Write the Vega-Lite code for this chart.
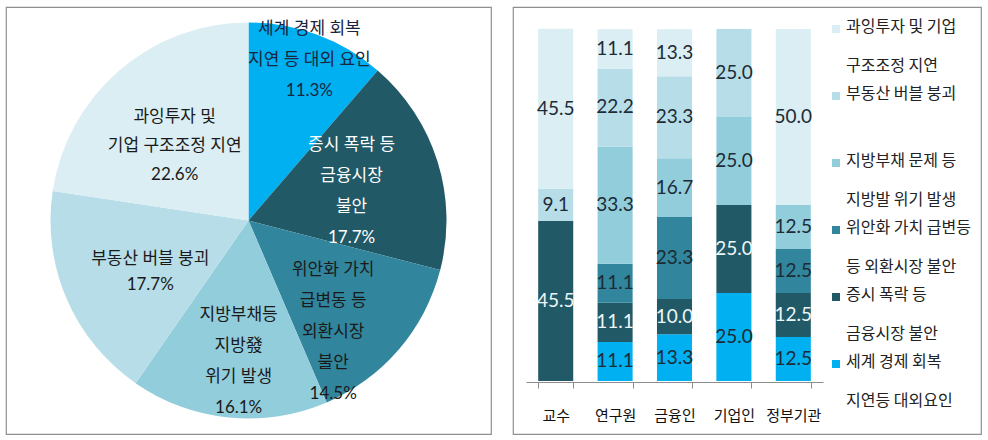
{
  "$schema": "https://vega.github.io/schema/vega-lite/v6.json",
  "padding": {"left": 5, "top": 6, "right": 0, "bottom": 0},
  "spacing": 20,
  "config": {"view": {"stroke": "#8f8f8f", "strokeWidth": 1.2}, "font": "Noto Sans CJK KR"},
  "resolve": {"scale": {"color": "independent"}, "legend": {"color": "independent"}},
  "hconcat": [
    {
      "width": 485,
      "height": 427,
      "view": {"stroke": "#8f8f8f", "strokeWidth": 1.2},
      "data": {"values": [
        {"cat": "세계 경제 회복 지연 등 대외 요인", "label": "세계 경제 회복\n지연 등 대외 요인", "value": 11.3},
        {"cat": "증시 폭락 등 금융시장 불안", "label": "증시 폭락 등\n금융시장\n불안", "value": 17.7},
        {"cat": "위안화 가치 급변동 등 외환시장 불안", "label": "위안화 가치\n급변동 등\n외환시장\n불안", "value": 14.5},
        {"cat": "지방부채등 지방發 위기 발생", "label": "지방부채등\n지방發\n위기 발생", "value": 16.1},
        {"cat": "부동산 버블 붕괴", "label": "부동산 버블 붕괴", "value": 17.7},
        {"cat": "과잉투자 및 기업 구조조정 지연", "label": "과잉투자 및\n기업 구조조정 지연", "value": 22.6}
      ]},
      "transform": [
        {"window": [{"op": "row_number", "as": "ord"}]},
        {"stack": "value", "groupby": [], "sort": [{"field": "ord", "order": "ascending"}], "as": ["t0", "t1"]},
        {"calculate": "(datum.t0 + datum.t1) / 2", "as": "tm"},
        {"calculate": "datum.label + '\\n' + format(datum.value, '.1f') + '%'", "as": "txt"}
      ],
      "layer": [
        {
          "mark": {"type": "arc", "outerRadius": 198},
          "encoding": {
            "theta": {"field": "t0", "type": "quantitative", "stack": null, "scale": {"domain": [0, 99.9]}},
            "theta2": {"field": "t1"},
            "color": {
              "field": "cat", "type": "nominal", "legend": null,
              "scale": {
                "domain": ["세계 경제 회복 지연 등 대외 요인", "증시 폭락 등 금융시장 불안", "위안화 가치 급변동 등 외환시장 불안", "지방부채등 지방發 위기 발생", "부동산 버블 붕괴", "과잉투자 및 기업 구조조정 지연"],
                "range": ["#00B0F0", "#215967", "#31859C", "#92CDDC", "#B7DEE8", "#DAEEF3"]
              }
            }
          }
        },
        {
          "transform": [{"filter": {"field": "cat", "equal": "세계 경제 회복 지연 등 대외 요인"}}],
          "mark": {"type": "text", "radius": 175, "dy": -27, "fontSize": 17, "lineHeight": 31, "lineBreak": "\n", "font": "Lato, Noto Sans CJK KR", "color": "#1a2540"},
          "encoding": {"theta": {"field": "tm", "type": "quantitative", "stack": null}, "text": {"field": "txt"}}
        },
        {
          "transform": [{"filter": {"field": "cat", "equal": "증시 폭락 등 금융시장 불안"}}],
          "mark": {"type": "text", "radius": 108, "dy": -43, "fontSize": 17, "lineHeight": 31, "lineBreak": "\n", "font": "Lato, Noto Sans CJK KR", "color": "#ffffff"},
          "encoding": {"theta": {"field": "tm", "type": "quantitative", "stack": null}, "text": {"field": "txt"}}
        },
        {
          "transform": [{"filter": {"field": "cat", "equal": "위안화 가치 급변동 등 외환시장 불안"}}],
          "mark": {"type": "text", "radius": 138, "dx": -20, "dy": -40, "fontSize": 17, "lineHeight": 31, "lineBreak": "\n", "font": "Lato, Noto Sans CJK KR", "color": "#1a1a1a"},
          "encoding": {"theta": {"field": "tm", "type": "quantitative", "stack": null}, "text": {"field": "txt"}}
        },
        {
          "transform": [{"filter": {"field": "cat", "equal": "지방부채등 지방發 위기 발생"}}],
          "mark": {"type": "text", "radius": 138, "dx": 4, "dy": -43, "fontSize": 17, "lineHeight": 31, "lineBreak": "\n", "font": "Lato, Noto Sans CJK KR", "color": "#1a1a1a"},
          "encoding": {"theta": {"field": "tm", "type": "quantitative", "stack": null}, "text": {"field": "txt"}}
        },
        {
          "transform": [{"filter": {"field": "cat", "equal": "부동산 버블 붕괴"}}],
          "mark": {"type": "text", "radius": 107, "dy": -4, "fontSize": 17, "lineHeight": 26, "lineBreak": "\n", "font": "Lato, Noto Sans CJK KR", "color": "#1a1a1a"},
          "encoding": {"theta": {"field": "tm", "type": "quantitative", "stack": null}, "text": {"field": "txt"}}
        },
        {
          "transform": [{"filter": {"field": "cat", "equal": "과잉투자 및 기업 구조조정 지연"}}],
          "mark": {"type": "text", "radius": 107, "dx": -4, "dy": -22, "fontSize": 17, "lineHeight": 29, "lineBreak": "\n", "font": "Lato, Noto Sans CJK KR", "color": "#1a1a1a"},
          "encoding": {"theta": {"field": "tm", "type": "quantitative", "stack": null}, "text": {"field": "txt"}}
        }
      ]
    },
    {
      "width": 468,
      "height": 427,
      "data": {"values": [
        {"group": "교수", "cat": "증시 폭락 등\n금융시장 불안", "value": 45.5},
        {"group": "교수", "cat": "부동산 버블 붕괴", "value": 9.1},
        {"group": "교수", "cat": "과잉투자 및 기업\n구조조정 지연", "value": 45.5},
        {"group": "연구원", "cat": "세계 경제 회복\n지연등 대외요인", "value": 11.1},
        {"group": "연구원", "cat": "증시 폭락 등\n금융시장 불안", "value": 11.1},
        {"group": "연구원", "cat": "위안화 가치 급변등\n등 외환시장 불안", "value": 11.1},
        {"group": "연구원", "cat": "지방부채 문제 등\n지방발 위기 발생", "value": 33.3},
        {"group": "연구원", "cat": "부동산 버블 붕괴", "value": 22.2},
        {"group": "연구원", "cat": "과잉투자 및 기업\n구조조정 지연", "value": 11.1},
        {"group": "금융인", "cat": "세계 경제 회복\n지연등 대외요인", "value": 13.3},
        {"group": "금융인", "cat": "증시 폭락 등\n금융시장 불안", "value": 10.0},
        {"group": "금융인", "cat": "위안화 가치 급변등\n등 외환시장 불안", "value": 23.3},
        {"group": "금융인", "cat": "지방부채 문제 등\n지방발 위기 발생", "value": 16.7},
        {"group": "금융인", "cat": "부동산 버블 붕괴", "value": 23.3},
        {"group": "금융인", "cat": "과잉투자 및 기업\n구조조정 지연", "value": 13.3},
        {"group": "기업인", "cat": "세계 경제 회복\n지연등 대외요인", "value": 25.0},
        {"group": "기업인", "cat": "증시 폭락 등\n금융시장 불안", "value": 25.0},
        {"group": "기업인", "cat": "지방부채 문제 등\n지방발 위기 발생", "value": 25.0},
        {"group": "기업인", "cat": "부동산 버블 붕괴", "value": 25.0},
        {"group": "정부기관", "cat": "세계 경제 회복\n지연등 대외요인", "value": 12.5},
        {"group": "정부기관", "cat": "증시 폭락 등\n금융시장 불안", "value": 12.5},
        {"group": "정부기관", "cat": "위안화 가치 급변등\n등 외환시장 불안", "value": 12.5},
        {"group": "정부기관", "cat": "지방부채 문제 등\n지방발 위기 발생", "value": 12.5},
        {"group": "정부기관", "cat": "과잉투자 및 기업\n구조조정 지연", "value": 50.0}
      ]},
      "transform": [
        {"window": [{"op": "row_number", "as": "ord"}], "groupby": ["group"]},
        {"stack": "value", "groupby": ["group"], "sort": [{"field": "ord", "order": "ascending"}], "as": ["v0", "v1"]},
        {"calculate": "(datum.v0 + datum.v1) / 2", "as": "vm"}
      ],
      "encoding": {
        "x": {
          "field": "group", "type": "nominal",
          "sort": ["교수", "연구원", "금융인", "기업인", "정부기관"],
          "scale": {"range": [13, 310], "paddingInner": 0.41, "paddingOuter": 0.205},
          "axis": {
            "title": null, "offset": -52, "tickBand": "extent", "labelAngle": 0,
            "domainColor": "#8c8c8c", "tickColor": "#8c8c8c", "tickSize": 6,
            "labelFont": "Noto Sans CJK KR", "labelFontSize": 15, "labelColor": "#111111",
            "labelPadding": 20, "grid": false
          }
        }
      },
      "layer": [
        {
          "mark": {"type": "bar"},
          "encoding": {
            "y": {"field": "v0", "type": "quantitative", "scale": {"domain": [0, 100], "range": [374, 22], "nice": false}, "axis": null},
            "y2": {"field": "v1"},
            "color": {
              "field": "cat", "type": "nominal",
              "scale": {
                "domain": ["과잉투자 및 기업\n구조조정 지연", "부동산 버블 붕괴", "지방부채 문제 등\n지방발 위기 발생", "위안화 가치 급변등\n등 외환시장 불안", "증시 폭락 등\n금융시장 불안", "세계 경제 회복\n지연등 대외요인"],
                "range": ["#DAEEF3", "#B7DEE8", "#92CDDC", "#31859C", "#215967", "#00B0F0"]
              },
              "legend": {
                "orient": "none", "legendX": 315, "legendY": 8, "padding": 0,
                "title": null, "symbolType": "square", "symbolSize": 64, "symbolStrokeWidth": 0,
                "labelFont": "Noto Sans CJK KR", "labelFontSize": 16, "labelColor": "#222222",
                "labelLimit": 220, "labelOffset": 2, "clipHeight": 66.6, "rowPadding": 0,
                "labelExpr": "split(datum.label, '\\n')",
                "encode": {
                  "symbols": {"update": {"y": {"value": 14}}},
                  "labels": {"update": {"y": {"value": 14}, "baseline": {"value": "top"}, "dy": {"value": -10}, "lineHeight": {"value": 39}}}
                }
              }
            }
          }
        },
        {
          "mark": {"type": "text", "font": "Lato", "fontSize": 19},
          "encoding": {
            "y": {"field": "vm", "type": "quantitative", "axis": null},
            "text": {"field": "value", "type": "quantitative", "format": ".1f"},
            "color": {"condition": {"test": "indexof(datum.cat, '증시') >= 0", "value": "#eef6f8"}, "value": "#1d2b36"}
          }
        }
      ]
    }
  ]
}
